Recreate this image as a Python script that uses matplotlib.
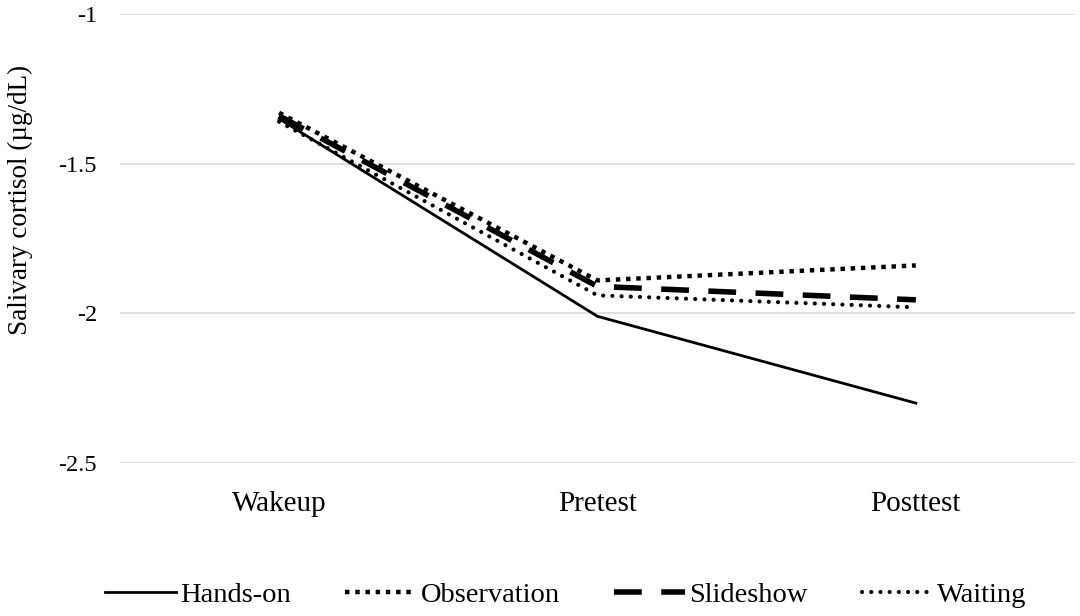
import matplotlib
matplotlib.use("Agg")
import matplotlib.pyplot as plt

# 数据
times = ["Wakeup", "Pretest", "Posttest"]
hands_on = [-1.35, -2.01, -2.30]
observation = [-1.33, -1.89, -1.84]
slideshow = [-1.34, -1.91, -1.955]
waiting = [-1.36, -1.94, -1.98]

plt.rcParams['font.family'] = ['Liberation Serif', 'DejaVu Serif']

fig = plt.figure(figsize=(10.8, 6.16), dpi=100)
ax = fig.add_axes([0.111, 0.2484, 0.8844, 0.7289])

x = range(len(times))
ax.plot(x, hands_on, color='black', lw=2, label='Hands-on')
ax.plot(x, observation, color='black', lw=3.2, linestyle=(0, (1, 1.3)),
        dash_capstyle='butt', label='Observation')
ax.plot(x, slideshow, color='black', lw=4, linestyle=(0, (5, 3.5)),
        dash_capstyle='butt', label='Slideshow')
ax.plot(x, waiting, color='black', lw=3, linestyle=(0, (0.01, 2.2)),
        dash_capstyle='round', label='Waiting')

ax.set_xlim(-0.5, 2.5)
ax.set_ylim(-2.5, -1)
ax.set_yticks([-2.5, -2, -1.5, -1])
ax.set_yticklabels(['-2.5', '-2', '-1.5', '-1'])
ax.set_xticks(list(x))
ax.set_xticklabels(times)
ax.tick_params(length=0)
ax.tick_params(axis='x', pad=20, labelsize=21)
ax.tick_params(axis='y', pad=16.5, labelsize=17.5)
ax.grid(axis='y', color='#d9d9d9', lw=1.2)
ax.set_axisbelow(True)
for s in ax.spines.values():
    s.set_visible(False)

ax.set_ylabel('Salivary cortisol (µg/dL)', fontsize=19.5)
ax.yaxis.set_label_coords(-0.091, 0.585)

fig.legend(loc='center', bbox_to_anchor=(0.524, 0.034), ncol=4, frameon=False,
           fontsize=20.5, handlelength=2.5, columnspacing=1.9, handletextpad=0.15)

fig.savefig('out.png', dpi=100)
